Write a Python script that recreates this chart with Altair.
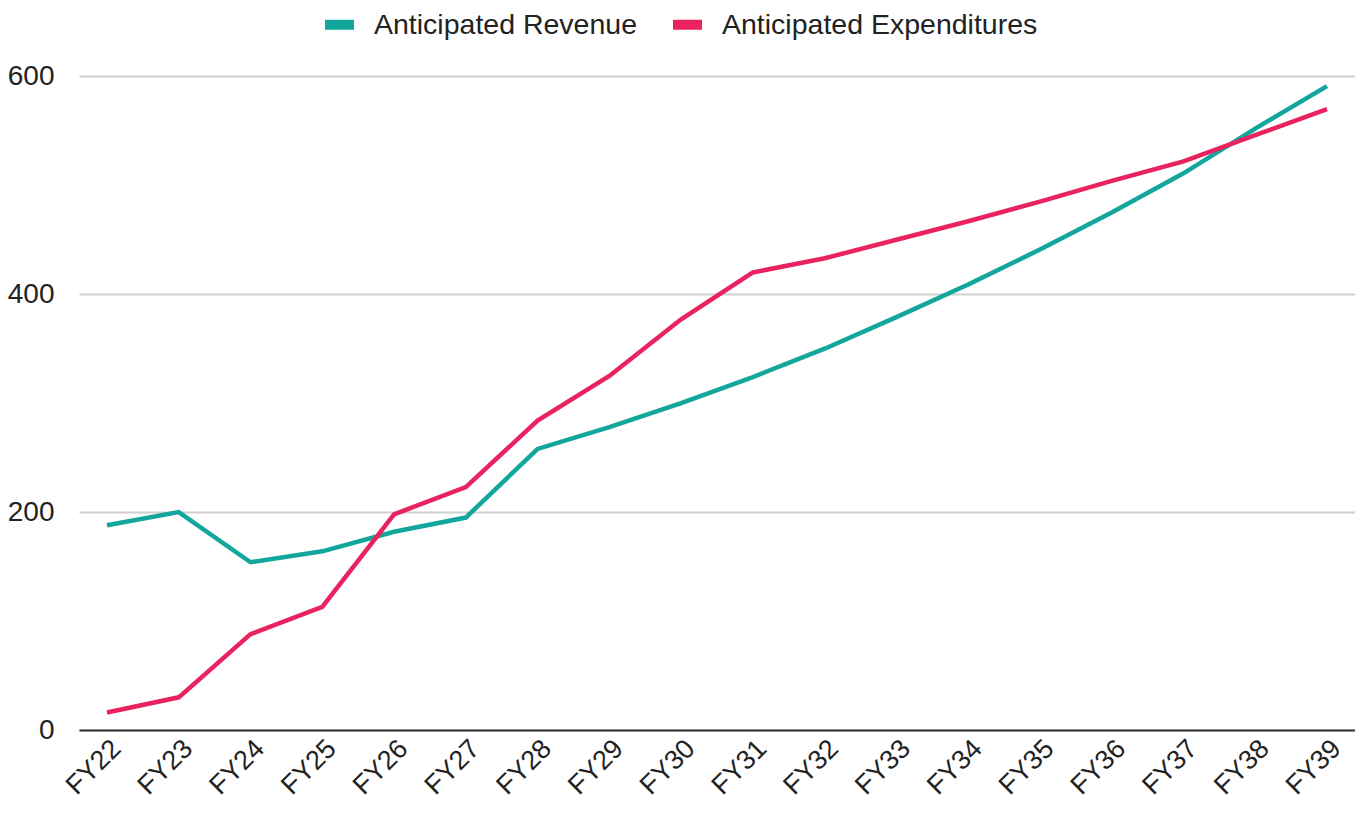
import altair as alt
import pandas as pd

years = ["FY22", "FY23", "FY24", "FY25", "FY26", "FY27", "FY28", "FY29", "FY30",
         "FY31", "FY32", "FY33", "FY34", "FY35", "FY36", "FY37", "FY38", "FY39"]
revenue = [188, 200, 154, 164, 182, 195, 258, 278, 300, 324, 350, 379, 409, 441, 475, 511, 552, 591]
expenditures = [16, 30, 88, 113, 198, 223, 284, 325, 377, 420, 433, 450, 467, 485, 504, 522, 546, 570]
series = ["Anticipated Revenue", "Anticipated Expenditures"]
colors = ["#12a69c", "#e8235f"]

rows = []
for name, vals in zip(series, [revenue, expenditures]):
    for y, v in zip(years, vals):
        rows.append({"Year": y, "Value": v, "Series": name})
df = pd.DataFrame(rows)

FONT = "Liberation Sans"

chart = alt.Chart(df).mark_line(strokeWidth=4.5).encode(
    x=alt.X("Year:N", sort=years, title=None,
            scale=alt.Scale(type="point", padding=0.39),
            axis=alt.Axis(labelAngle=-45, labelFontSize=27, labelFont=FONT, labelColor="#222",
                          ticks=False, domainColor="#333", domainWidth=2, labelPadding=5,
                          grid=False)),
    y=alt.Y("Value:Q", title=None,
            scale=alt.Scale(domain=[0, 615], nice=False),
            axis=alt.Axis(values=[0, 200, 400, 600], labelFontSize=28, labelFont=FONT,
                          labelColor="#222", ticks=False, domain=False, gridColor="#cfcfcf",
                          gridWidth=2, labelPadding=25)),
    color=alt.Color("Series:N", sort=series,
                    scale=alt.Scale(domain=series, range=colors),
                    legend=alt.Legend(title=None, orient="none", direction="horizontal",
                                      legendX=241, legendY=-55, labelFont=FONT, labelFontSize=28.5,
                                      labelColor="#222", labelLimit=600,
                                      symbolType="stroke", symbolSize=841,
                                      symbolStrokeWidth=10,
                                      columnPadding=15, labelOffset=15)),
).properties(
    width=1276, height=670,
    autosize=alt.AutoSizeParams(type="none"),
    padding={"left": 71, "top": 52, "right": 0, "bottom": 70},
).configure_view(stroke=None)

chart.save("out.html", embed_options={"renderer": "svg", "actions": False})
